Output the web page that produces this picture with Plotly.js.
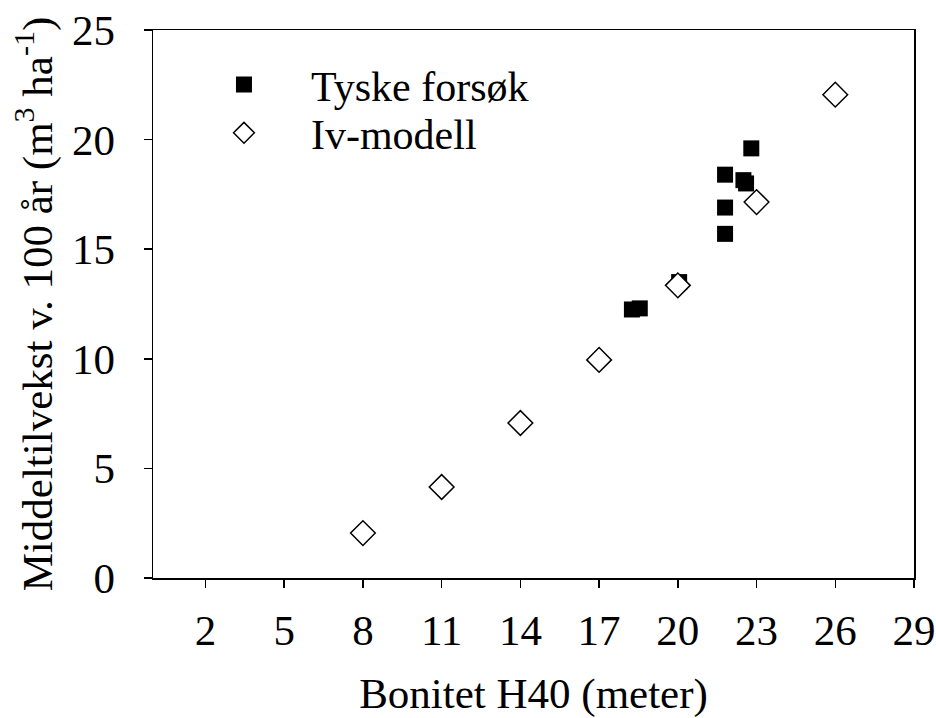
<!DOCTYPE html>
<html>
<head>
<meta charset="utf-8">
<script src="https://cdn.plot.ly/plotly-3.0.1.min.js"></script>
<style>html,body{margin:0;padding:0;background:#fff;}#chart{width:936px;height:718px;}</style>
</head>
<body>
<div id="chart"></div>
<script>
// Tyske forsøk (measured)
const tyskeX = [18.25, 18.55, 20.05, 21.8, 21.8, 21.8, 22.5, 22.6, 22.8];
const tyskeY = [12.25, 12.3, 13.5, 15.7, 16.9, 18.4, 18.15, 18.0, 19.6];
// Iv-modell
const ivX = [8, 11, 14, 17, 20, 23, 26];
const ivY = [2.05, 4.15, 7.07, 9.95, 13.35, 17.15, 22.05];
const xTicks = [2, 5, 8, 11, 14, 17, 20, 23, 26, 29];
const yTicks = [0, 5, 10, 15, 20, 25];

const FONT = "Liberation Serif";

const traces = [
  {x: tyskeX, y: tyskeY, type: 'scatter', mode: 'markers', name: 'Tyske forsøk',
   marker: {symbol: 'square', size: 16, color: '#000', line: {width: 0}}, legend: 'legend'},
  {x: ivX, y: ivY, type: 'scatter', mode: 'markers', name: 'Iv-modell',
   marker: {symbol: 'diamond', size: 19, color: '#fff', line: {width: 1.5, color: '#000'}}, legend: 'legend2'}
];

const legendCommon = {font: {family: FONT, size: 42, color: '#000'}, bgcolor: 'rgba(0,0,0,0)',
  borderwidth: 0, itemwidth: 124, xanchor: 'left', yanchor: 'middle', itemclick: false};

const layout = {
  width: 936, height: 718,
  margin: {l: 153, r: 22, t: 30, b: 140},
  paper_bgcolor: '#fff', plot_bgcolor: '#fff',
  font: {family: FONT, size: 43, color: '#000'},
  showlegend: true,
  legend: Object.assign({}, legendCommon, {x: 0.0315, y: 0.9}),
  legend2: Object.assign({}, legendCommon, {x: 0.0315, y: 0.812}),
  xaxis: {
    range: [0, 29], tickvals: xTicks, ticktext: xTicks.map(String),
    showgrid: false, zeroline: false, showline: true, mirror: true,
    linecolor: '#000', linewidth: 1.5, ticks: 'outside', ticklen: 8, tickwidth: 1.5, tickcolor: '#000',
    ticklabelstandoff: 6,
    tickfont: {family: FONT, size: 43},
    title: {text: 'Bonitet H40 (meter)', font: {family: FONT, size: 43}, standoff: 36}
  },
  yaxis: {
    range: [0, 25], tickvals: yTicks, ticktext: yTicks.map(String),
    showgrid: false, zeroline: false, showline: true, mirror: true,
    linecolor: '#000', linewidth: 1.5, ticks: 'outside', ticklen: 8, tickwidth: 1.5, tickcolor: '#000',
    ticklabelstandoff: 20,
    tickfont: {family: FONT, size: 43},
    title: {text: 'Middeltilvekst v. 100 år (m<sup>3</sup> ha<sup>-1</sup>)', font: {family: FONT, size: 43}, standoff: 6}
  }
};

Plotly.newPlot('chart', traces, layout, {displayModeBar: false, staticPlot: true});
</script>
</body>
</html>
